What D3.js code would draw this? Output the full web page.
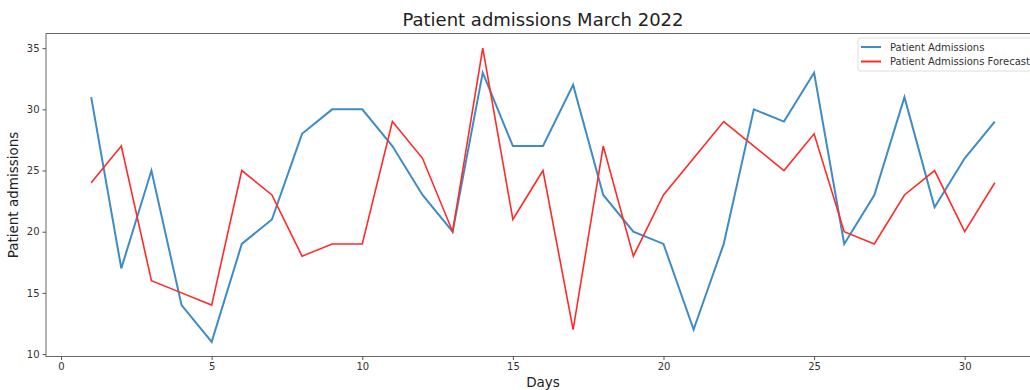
<!DOCTYPE html>
<html><head><meta charset="utf-8">
<script src="https://cdn.jsdelivr.net/npm/d3@7"></script>
<style>body{margin:0;background:#fff;overflow:hidden}svg{display:block;font-family:"DejaVu Sans",sans-serif}</style>
</head><body>
<script>
const days = d3.range(1, 32);
const admissions = [31,17,25,14,11,19,21,28,30,30,27,23,20,33,27,27,32,23,20,19,12,19,30,29,33,19,23,31,22,26,29];
const forecast   = [24,27,16,15,14,25,23,18,19,19,29,26,20,35,21,25,12,27,18,23,26,29,27,25,28,20,19,23,25,20,24];
const xTicks = [0,5,10,15,20,25,30];
const yTicks = [10,15,20,25,30,35];
const seriesNames = ["Patient Admissions","Patient Admissions Forecast"];

(function(){
const W = 1030, H = 390;
const svg = d3.select("body").append("svg").attr("width", W).attr("height", H);
const mL = 46, mR = 1040, mT = 33.5, mB = 356.5;
const x = d3.scaleLinear().domain([-0.5, 32.5]).range([mL, mR]);
const y = d3.scaleLinear().domain([9.8, 36.2]).range([mB, mT]);

const g = svg.append("g");
const line = vals => d3.line().x((d,i)=>x(days[i])).y(d=>y(d))(vals);
g.append("path").attr("d", line(admissions)).attr("fill","none").attr("stroke","#3f8cc4").attr("stroke-width",2);
g.append("path").attr("d", line(forecast)).attr("fill","none").attr("stroke","#ff2a2a").attr("stroke-width",1.6);

svg.append("rect").attr("x",mL).attr("y",mT).attr("width",mR-mL).attr("height",mB-mT).attr("fill","none").attr("stroke","#666").attr("stroke-width",1);

const xa = svg.append("g").attr("transform",`translate(0,${mB})`).call(d3.axisBottom(x).tickValues(xTicks).tickSize(3.5).tickPadding(3));
const ya = svg.append("g").attr("transform",`translate(${mL},0)`).call(d3.axisLeft(y).tickValues(yTicks).tickSize(3.5).tickPadding(3));
[xa,ya].forEach(a=>{a.select(".domain").remove();a.selectAll("line").attr("stroke","#555");a.selectAll("text").attr("fill","#333").style("font-size","10px").style("font-family","DejaVu Sans");});

svg.append("text").attr("x",543).attr("y",26).attr("text-anchor","middle").style("font-size","18px").attr("fill","#222").text("Patient admissions March 2022");
svg.append("text").attr("x",543).attr("y",387).attr("text-anchor","middle").style("font-size","13.5px").attr("fill","#222").text("Days");
svg.append("text").attr("transform",`translate(18,${(mT+mB)/2}) rotate(-90)`).attr("text-anchor","middle").style("font-size","13.5px").attr("fill","#222").text("Patient admissions");

const lg = svg.append("g").attr("transform","translate(858,38)");
lg.append("rect").attr("width",190).attr("height",33).attr("rx",2).attr("fill","#fff").attr("stroke","#ddd");
const cols = ["#3f8cc4","#ff2a2a"];
seriesNames.forEach((n,i)=>{
  const yy = 9 + i*14.5;
  lg.append("line").attr("x1",3).attr("x2",23).attr("y1",yy).attr("y2",yy).attr("stroke",cols[i]).attr("stroke-width",2);
  lg.append("text").attr("x",32).attr("y",yy+3.5).style("font-size","10px").attr("fill","#333").text(n);
});
})();
</script>
</body></html>
